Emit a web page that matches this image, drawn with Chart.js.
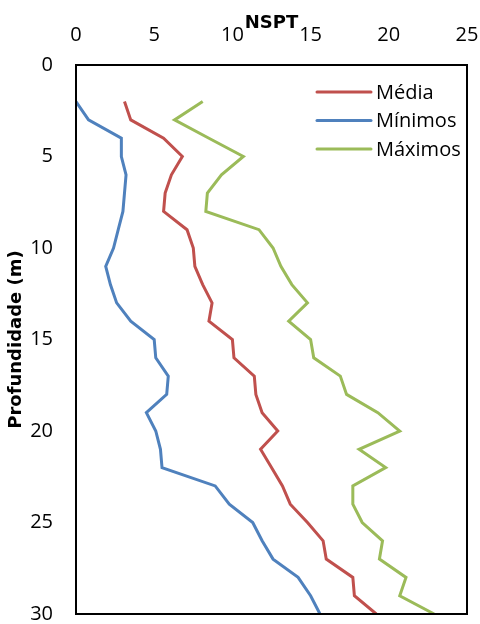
<!DOCTYPE html>
<html>
<head>
<meta charset="utf-8">
<script src="https://cdn.jsdelivr.net/npm/chart.js@4.4.1/dist/chart.umd.min.js"></script>
<style>
  html, body { margin: 0; padding: 0; background: #fff; }
  #wrap { width: 480px; height: 624px; }
  canvas { display: block; }
</style>
</head>
<body>
<div id="wrap"><canvas id="nspt-chart" width="480" height="624"></canvas></div>
<script>
// profundidade (m)
const depths = [2, 3, 4, 5, 6, 7, 8, 9, 10, 11, 12, 13, 14, 15, 16, 17, 18, 19, 20, 21, 22, 23, 24, 25, 26, 27, 28, 29, 30];

// NSPT por profundidade
const media = [3.1, 3.5, 5.6, 6.8, 6.1, 5.7, 5.6, 7.1, 7.5, 7.6, 8.1, 8.7, 8.5, 10.0, 10.1, 11.4, 11.5, 11.9, 12.9, 11.8, 12.5, 13.2, 13.7, 14.8, 15.8, 16.0, 17.7, 17.8, 19.2];
const minimos = [0, 0.8, 2.9, 2.9, 3.2, 3.1, 3.0, 2.7, 2.4, 1.9, 2.2, 2.6, 3.5, 5.0, 5.1, 5.9, 5.8, 4.5, 5.1, 5.4, 5.5, 8.9, 9.8, 11.3, 11.9, 12.6, 14.2, 15.0, 15.6];
const maximos = [8.1, 6.3, 8.5, 10.7, 9.3, 8.4, 8.3, 11.7, 12.6, 13.1, 13.8, 14.8, 13.6, 15.0, 15.2, 16.9, 17.3, 19.3, 20.7, 18.1, 19.8, 17.7, 17.7, 18.3, 19.6, 19.4, 21.1, 20.7, 22.9];

const seriesLabels = ['Média', 'Mínimos', 'Máximos'];
const seriesColors = ['#C0504D', '#4F81BD', '#9BBB59'];

const toPoints = (vals) => vals.map((v, i) => ({ x: v, y: depths[i] }));

// moldura + legenda dentro da área do gráfico
const framePlugin = {
    id: 'plotFrame',
    afterDraw(chart) {
        const { ctx, chartArea: a } = chart;
        const w = a.right - a.left, h = a.bottom - a.top;
        ctx.save();
        ctx.fillStyle = '#000';
        ctx.fillRect(a.left - 1, a.top - 1, w + 2, 2);
        ctx.fillRect(a.left - 1, a.bottom - 1, w + 2, 2);
        ctx.fillRect(a.left - 1, a.top - 1, 2, h + 2);
        ctx.fillRect(a.right - 1, a.top - 1, 2, h + 2);

        const x0 = 317, x1 = 371, yStart = 92, step = 28.5;
        ctx.font = '20px "Open Sans"';
        ctx.textBaseline = 'middle';
        ctx.lineWidth = 3;
        ctx.lineCap = 'round';
        chart.data.datasets.forEach((ds, i) => {
            const y = yStart + i * step;
            ctx.strokeStyle = ds.borderColor;
            ctx.beginPath();
            ctx.moveTo(x0, y);
            ctx.lineTo(x1, y);
            ctx.stroke();
            ctx.fillStyle = '#000';
            ctx.fillText(ds.label, 376, y + 1);
        });
        ctx.restore();
    }
};

const makeDataset = (label, vals, color) => ({
    label: label,
    data: toPoints(vals),
    borderColor: color,
    backgroundColor: color,
    borderWidth: 3,
    pointRadius: 0,
    tension: 0,
});

const chart = new Chart(document.getElementById('nspt-chart'), {
    type: 'line',
    data: {
        datasets: [
            makeDataset(seriesLabels[0], media, seriesColors[0]),
            makeDataset(seriesLabels[1], minimos, seriesColors[1]),
            makeDataset(seriesLabels[2], maximos, seriesColors[2]),
        ]
    },
    options: {
        responsive: false,
        animation: false,
        layout: { padding: { left: 0, top: 0, right: 13, bottom: 10 } },
        plugins: {
            legend: { display: false },
            tooltip: { enabled: false },
        },
        scales: {
            x: {
                type: 'linear',
                position: 'top',
                min: 0,
                max: 25,
                // tickLength faz o afastamento dos rótulos (padding infla o layout)
                grid: { display: false, drawTicks: true, tickLength: 20 },
                border: { display: false },
                ticks: {
                    stepSize: 5,
                    color: '#000',
                    padding: 0,
                    maxRotation: 0,
                    font: { size: 20, family: '"Open Sans"', lineHeight: 1 },
                },
                title: {
                    display: true,
                    text: 'NSPT',
                    color: '#000',
                    font: { size: 18, weight: 'bold', family: '"DejaVu Sans"', lineHeight: 1.2 },
                    padding: { top: 13, bottom: 0 },
                },
                afterFit: (scale) => { scale.height = 65; },
            },
            y: {
                type: 'linear',
                reverse: true,
                min: 0,
                max: 30,
                grid: { display: false, drawTicks: true, tickLength: 23 },
                border: { display: false },
                ticks: {
                    stepSize: 5,
                    color: '#000',
                    padding: 0,
                    font: { size: 20, family: '"Open Sans"', lineHeight: 1 },
                },
                title: {
                    display: true,
                    text: 'Profundidade (m)',
                    color: '#000',
                    font: { size: 18, weight: 'bold', family: '"DejaVu Sans"', lineHeight: 1.2 },
                    padding: { top: 6, bottom: 0 },
                },
                afterFit: (scale) => { scale.width = 76; },
            }
        }
    },
    plugins: [framePlugin]
});
</script>
</body>
</html>
